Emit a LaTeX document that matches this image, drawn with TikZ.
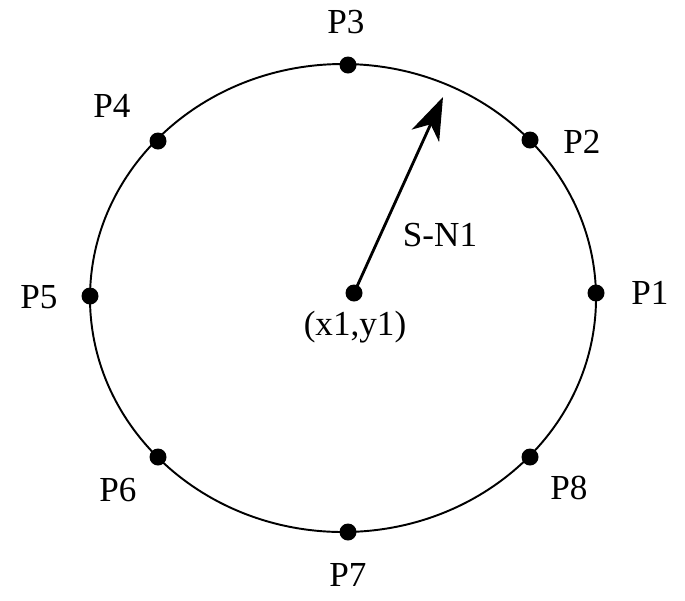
\documentclass[tikz,border=0pt]{standalone}
\usepackage{fontspec}
\setmainfont{Liberation Serif}
\usetikzlibrary{arrows.meta}
\begin{document}
\begin{tikzpicture}[x=0.02cm,y=-0.02cm,
  dot/.style={circle,fill=black,inner sep=0pt,minimum size=0.34cm},
  lbl/.style={font=\fontsize{20}{24}\selectfont}]
\useasboundingbox (0,0) rectangle (685,600);
\draw[line width=1.1pt] (343,298) ellipse [x radius=253, y radius=234];
\node[dot] (c) at (354,293) {};
\node[dot] (p1) at (596,293) {};
\node[dot] (p2) at (530,140) {};
\node[dot] (p3) at (348,65) {};
\node[dot] (p4) at (158,141) {};
\node[dot] (p5) at (90,296) {};
\node[dot] (p6) at (158,457) {};
\node[dot] (p7) at (348,532) {};
\node[dot] (p8) at (530,457) {};
\coordinate (tip) at (443,97);
\draw[line width=1.6pt,-{Stealth[length=0.85cm,width=0.6cm,inset=0.25cm]}] (c.center) -- (tip);
\node[lbl] (l1) at (650,293) {P1};
\node[lbl] (l2) at (582,142) {P2};
\node[lbl] (l3) at (346,22) {P3};
\node[lbl] (l4) at (112,106) {P4};
\node[lbl] (l5) at (39,297) {P5};
\node[lbl] (l6) at (118,490) {P6};
\node[lbl] (l7) at (348,575) {P7};
\node[lbl] (l8) at (569,488) {P8};
\node[lbl] (sn) at (440,235) {S-N1};
\node[lbl] (xy) at (355,327) {(x1,y1)};
\end{tikzpicture}
\end{document}
